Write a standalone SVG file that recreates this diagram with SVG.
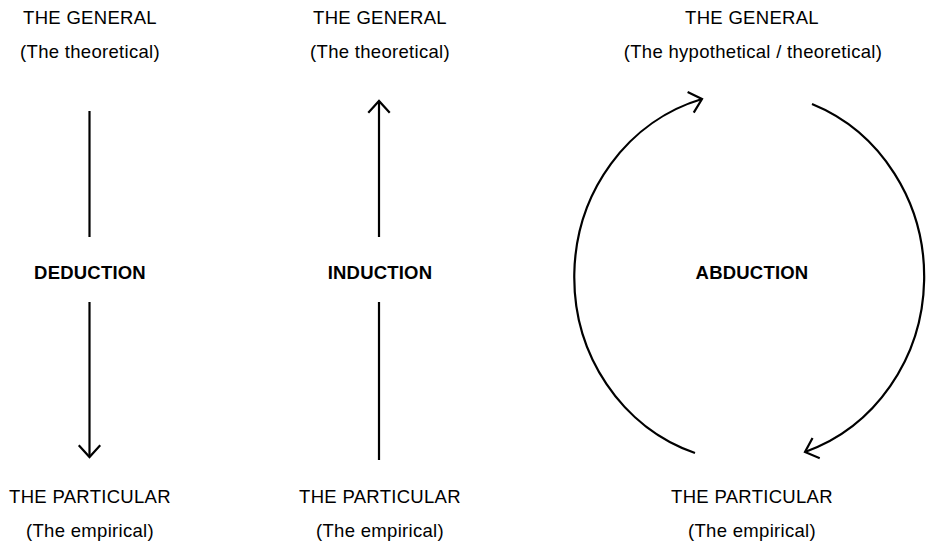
<svg xmlns="http://www.w3.org/2000/svg" width="930" height="547" viewBox="0 0 930 547">
  <style>
    .lbl { font-family: "Liberation Sans", Arial, sans-serif; font-size: 18.5px; fill: #000; text-anchor: middle; letter-spacing: 0.3px; }
    .bold { font-weight: bold; letter-spacing: 0.2px; }
    .conn { stroke: #000; stroke-width: 2.2; fill: none; }
  </style>
  <defs>
    <marker id="chev" markerUnits="userSpaceOnUse" markerWidth="30" markerHeight="30" viewBox="-15 -15 30 30" refX="0" refY="0" orient="auto" overflow="visible">
      <path d="M-11,-10 L0,0 L-11,10" fill="none" stroke="#000" stroke-width="2.2" stroke-linecap="square"/>
    </marker>
  </defs>
  <rect width="930" height="547" fill="#fff"/>

  <!-- Deduction column -->
  <g id="deduction-top">
    <text class="lbl" x="90" y="24">THE GENERAL</text>
    <text class="lbl" x="90" y="58">(The theoretical)</text>
  </g>
  <g id="deduction">
    <text class="lbl bold" x="90" y="279">DEDUCTION</text>
  </g>
  <g id="deduction-bottom">
    <text class="lbl" x="90" y="503">THE PARTICULAR</text>
    <text class="lbl" x="90" y="537">(The empirical)</text>
  </g>

  <!-- Induction column -->
  <g id="induction-top">
    <text class="lbl" x="380" y="24">THE GENERAL</text>
    <text class="lbl" x="380" y="58">(The theoretical)</text>
  </g>
  <g id="induction">
    <text class="lbl bold" x="380" y="279">INDUCTION</text>
  </g>
  <g id="induction-bottom">
    <text class="lbl" x="380" y="503">THE PARTICULAR</text>
    <text class="lbl" x="380" y="537">(The empirical)</text>
  </g>

  <!-- Abduction column -->
  <g id="abduction-top">
    <text class="lbl" x="752" y="24">THE GENERAL</text>
    <text class="lbl" x="753" y="58">(The hypothetical / theoretical)</text>
  </g>
  <g id="abduction">
    <text class="lbl bold" x="752" y="279">ABDUCTION</text>
  </g>
  <g id="abduction-bottom">
    <text class="lbl" x="752" y="503">THE PARTICULAR</text>
    <text class="lbl" x="752" y="537">(The empirical)</text>
  </g>

  <g id="connectors">
    <!-- deduction: general down to particular -->
    <line class="conn" x1="89.5" y1="111" x2="89.5" y2="237"/>
    <line class="conn" x1="89.5" y1="302" x2="89.5" y2="457" marker-end="url(#chev)"/>
    <!-- induction: particular up to general -->
    <line class="conn" x1="379" y1="460" x2="379" y2="302"/>
    <line class="conn" x1="379" y1="237" x2="379" y2="101" marker-end="url(#chev)"/>
    <!-- abduction: cycle -->
    <path class="conn" d="M695,453 A175,185 0 0 1 702,99" marker-end="url(#chev)"/>
    <path class="conn" d="M812,104 A175,185 0 0 1 805,452" marker-end="url(#chev)"/>
  </g>
</svg>
